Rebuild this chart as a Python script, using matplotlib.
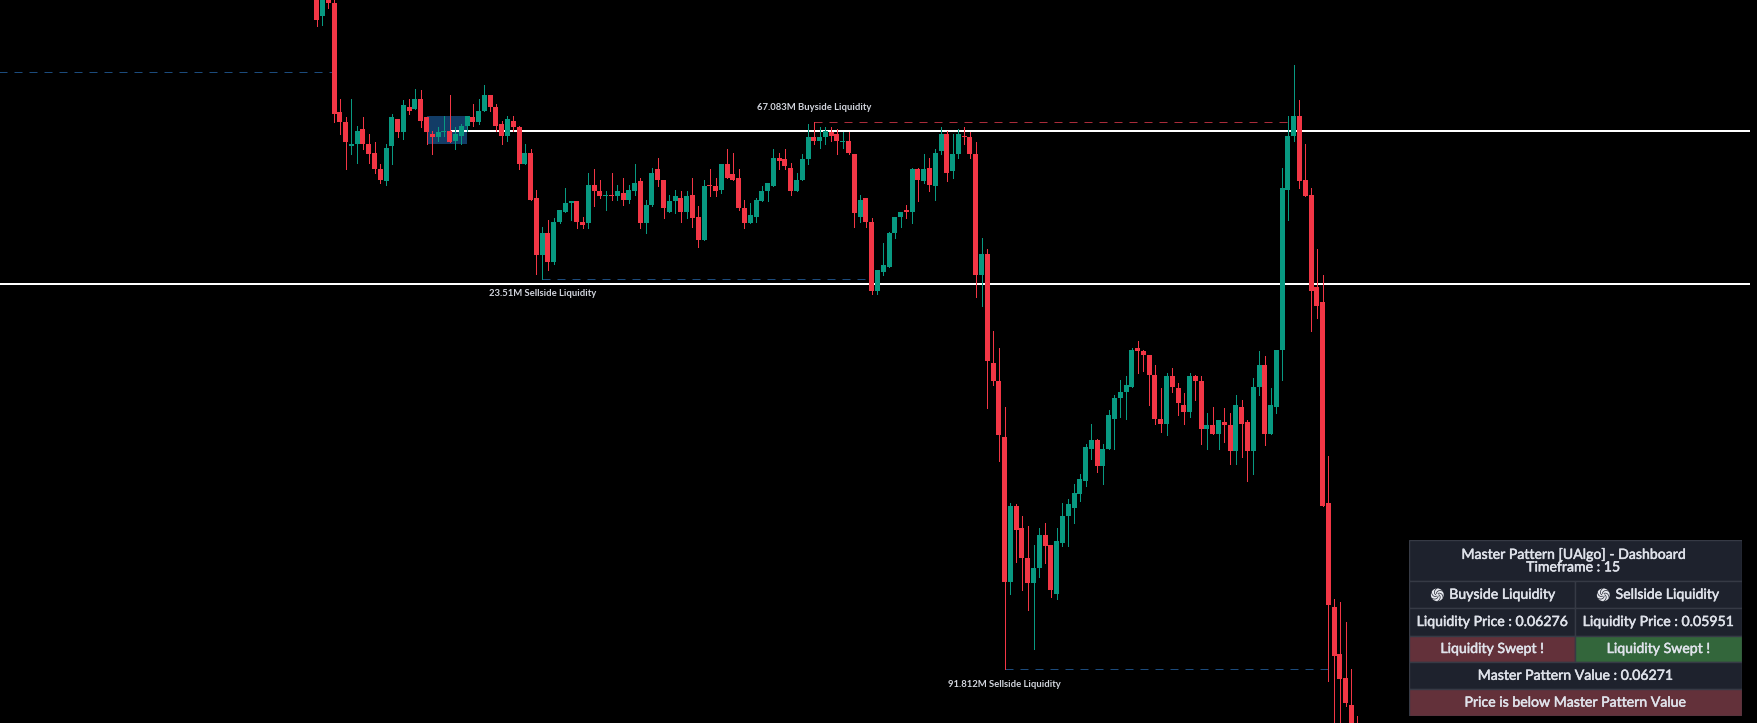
import numpy as np
import matplotlib
matplotlib.use('Agg')
import matplotlib.pyplot as plt
import matplotlib.patches as patches
import matplotlib.patheffects as pe

# prices in ticks of 0.00001, one entry per 15m bar
opens = [6352,6339,6352,6347,6282,6276,6262,6263,6272,6263,
         6258,6248,6241,6262,6278,6270,6285,6284,6290,6279,
         6269,6267,6270,6271,6265,6268,6274,6279,6276,6283,
         6292,6285,6275,6268,6277,6273,6251,6258,6231,6197,
         6210,6193,6217,6223,6228,6229,6217,6216,6239,6235,
         6232,6233,6232,6234,6230,6235,6241,6216,6227,6248,
         6242,6223,6229,6231,6223,6233,6220,6206,6239,6238,
         6236,6251,6245,6243,6225,6216,6220,6229,6235,6238,
         6255,6254,6249,6235,6242,6254,6267,6265,6267,6270,
         6269,6264,6265,6257,6220,6231,6217,6176,6187,6190,
         6210,6220,6224,6223,6248,6241,6249,6238,6259,6269,
         6247,6257,6268,6267,6257,6185,6198,6133,6122,6089,
         6003,6048,6035,6017,6002,6011,6031,6025,5996,6026,
         6042,6047,6055,6063,6082,6087,6072,6082,6100,6112,
         6116,6119,6142,6140,6138,6126,6100,6097,6125,6118,
         6108,6104,6125,6122,6094,6096,6091,6098,6096,6081,
         6107,6098,6081,6119,6132,6091,6107,6141,6236,6268,
         6280,6242,6233,6178,6169,6050,5988,5960,5946,5930,5915]
highs = [6355,6354,6353,6349,6290,6279,6290,6274,6279,6269,
         6264,6251,6263,6281,6278,6289,6290,6296,6295,6279,
         6271,6273,6280,6292,6273,6275,6280,6287,6290,6298,
         6292,6287,6277,6280,6280,6274,6263,6260,6236,6214,
         6218,6219,6224,6237,6229,6229,6220,6246,6248,6242,
         6235,6246,6239,6243,6239,6251,6243,6230,6249,6255,
         6242,6233,6236,6235,6235,6243,6226,6242,6248,6243,
         6251,6260,6258,6248,6230,6228,6231,6238,6240,6260,
         6258,6260,6252,6246,6257,6275,6276,6273,6273,6273,
         6272,6270,6270,6257,6233,6231,6219,6188,6204,6211,
         6220,6223,6227,6249,6249,6257,6255,6260,6273,6271,
         6269,6272,6273,6270,6264,6207,6201,6152,6142,6107,
         6050,6049,6042,6036,6025,6035,6038,6025,6035,6050,
         6052,6061,6067,6085,6097,6088,6085,6105,6114,6123,
         6125,6142,6146,6141,6138,6132,6118,6127,6130,6121,
         6115,6127,6126,6125,6103,6107,6099,6106,6103,6114,
         6111,6099,6124,6140,6137,6118,6141,6249,6280,6310,
         6289,6263,6237,6201,6185,6078,5993,5991,5979,5951,5923]
lows = [6333,6334,6344,6276,6269,6248,6257,6252,6260,6252,
        6246,6240,6239,6251,6267,6266,6281,6284,6273,6263,
        6257,6265,6268,6264,6260,6263,6271,6274,6275,6283,
        6283,6271,6263,6265,6271,6248,6251,6230,6186,6183,
        6188,6192,6216,6223,6218,6213,6213,6213,6226,6231,
        6224,6230,6230,6227,6228,6233,6213,6210,6226,6238,
        6219,6223,6222,6217,6219,6214,6202,6206,6232,6232,
        6234,6243,6242,6224,6213,6216,6217,6229,6229,6238,
        6248,6248,6233,6235,6242,6251,6263,6261,6263,6265,
        6257,6261,6257,6214,6217,6214,6174,6174,6185,6190,
        6207,6214,6219,6216,6229,6240,6235,6230,6257,6241,
        6243,6255,6263,6255,6172,6167,6106,6120,6075,5951,
        5996,6015,5998,5986,5963,6006,6014,5994,5993,6024,
        6024,6038,6051,6060,6076,6068,6061,6082,6082,6101,
        6100,6119,6127,6128,6108,6097,6092,6090,6116,6102,
        6097,6101,6111,6085,6082,6091,6082,6086,6073,6073,
        6077,6063,6067,6114,6084,6091,6103,6123,6218,6265,
        6237,6232,6152,6160,6048,5944,5915,5915,5929,5900,5900]
closes = [6337,6352,6347,6281,6276,6264,6263,6271,6263,6257,
          6248,6242,6261,6279,6270,6286,6283,6290,6277,6270,
          6267,6270,6271,6264,6269,6274,6280,6276,6283,6292,
          6285,6274,6268,6278,6273,6251,6258,6230,6197,6210,
          6193,6217,6224,6228,6229,6217,6215,6239,6235,6232,
          6233,6232,6235,6230,6236,6240,6216,6227,6246,6242,
          6225,6229,6232,6223,6232,6219,6206,6238,6238,6235,
          6251,6243,6242,6225,6216,6221,6230,6235,6240,6255,
          6253,6250,6235,6242,6254,6267,6265,6267,6271,6268,
          6265,6265,6258,6222,6230,6217,6176,6188,6191,6210,
          6220,6223,6223,6248,6242,6248,6239,6258,6269,6246,
          6257,6269,6267,6257,6185,6198,6134,6122,6090,6003,
          6048,6034,6017,6002,6011,6031,6024,5998,6027,6042,
          6049,6056,6064,6083,6087,6072,6082,6102,6112,6116,
          6120,6141,6140,6138,6126,6100,6097,6125,6119,6109,
          6104,6125,6122,6094,6096,6091,6099,6096,6081,6108,
          6097,6081,6119,6132,6091,6108,6141,6237,6268,6280,
          6241,6232,6176,6167,6048,5989,5959,5945,5931,5905,5905]

TICK = 0.00001
master_levels = [(0.06271, 23), (0.06180, -60)]   # price, first bar
master_value = 0.06271
buyside_price = 0.06276
sellside_price = 0.05951
old_buyside = 0.06306
mid_sellside = 0.06183
pattern_box = (19, 26, 0.06263, 0.06280)   # bar from, bar to, low, high

UP = '#089981'
DOWN = '#f23645'
plt.rcParams['font.family'] = ['Lato', 'DejaVu Sans']

o = np.array(opens) * TICK
h = np.array(highs) * TICK
l = np.array(lows) * TICK
c = np.array(closes) * TICK
bars = np.arange(len(o))
colors = [UP if b >= a else DOWN for a, b in zip(o, c)]

fig = plt.figure(figsize=(17.58, 7.23), dpi=100, facecolor='black')
ax = fig.add_axes([0, 0, 1, 1], facecolor='black')
ax.axis('off')
BAR_PX = 5.781
ax.set_xlim(-316.7 / BAR_PX, (1758 - 316.7) / BAR_PX)
ax.set_ylim(0.0591910, 0.0634866)

# order block
ax.add_patch(patches.Rectangle((pattern_box[0], pattern_box[2]), pattern_box[1] - pattern_box[0],
                               pattern_box[3] - pattern_box[2], facecolor='#123c66', edgecolor='none', zorder=1))

# master pattern lines
for price, start in master_levels:
    ax.hlines(price, start, 248, color='white', linewidth=1.44, zorder=2, snap=True)

# swept liquidity
dash = (0, (8, 7))
ax.hlines(old_buyside, -60, 3, color='#1c4b7c', linewidth=0.72, linestyle=dash, zorder=1)
ax.hlines(mid_sellside, 39, 95, color='#1c4b7c', linewidth=0.72, linestyle=dash, zorder=1)
ax.hlines(sellside_price, 119, 175, color='#1c4b7c', linewidth=0.72, linestyle=dash, zorder=1)
ax.hlines(buyside_price, 86, 168, color='#a82c3a', linewidth=0.72, linestyle=dash, zorder=1)

ax.vlines(bars, l, h, colors=colors, linewidth=0.72, zorder=3, antialiased=False)
ax.bar(bars, np.abs(c - o), bottom=np.minimum(o, c), width=5 / BAR_PX, color=colors, zorder=4, antialiased=False)

label_style = dict(color='#d1d4dc', fontsize=6.8, fontweight='bold', ha='center', va='center',
                   textcoords='offset pixels', zorder=6)
ax.annotate('67.083M Buyside Liquidity', (86, buyside_price), xytext=(0, 14.6), **label_style)
ax.annotate('23.51M Sellside Liquidity', (39, mid_sellside), xytext=(0, -14.4), **label_style)
ax.annotate('91.812M Sellside Liquidity', (119, sellside_price), xytext=(0, -15.4), **label_style)

# dashboard, drawn in its own pixel-sized axes
panel = fig.add_axes([1409.3 / 1758, 7 / 723, 332.4 / 1758, 176 / 723])
panel.set_xlim(0, 332.4)
panel.set_ylim(176, 0)
panel.axis('off')

BG = '#1e222d'
EDGE = '#363a45'
RED = '#63313a'
GREEN = '#33663b'
TXT = '#dfe2ea'
MID = 166
ROWS = [0, 41.3, 68.3, 95.7, 122.3, 149.3, 176]


def cell(x0, x1, row, color, text, dx=0):
    y0, y1 = ROWS[row], ROWS[row + 1]
    panel.add_patch(patches.Rectangle((x0, y0), x1 - x0, y1 - y0, facecolor=color, edgecolor=EDGE, linewidth=1))
    t = panel.text((x0 + x1) / 2 + dx, (y0 + y1) / 2, text, color=TXT, fontsize=10.15,
                   ha='center', va='center', linespacing=1.05)
    t.set_path_effects([pe.withStroke(linewidth=0.35, foreground=TXT)])


def swirl(xc, yc):
    panel.add_patch(patches.Circle((xc, yc), 6.4, facecolor='#e6e8ee', edgecolor='none', zorder=5))
    t = np.linspace(0, 1, 12)
    for a in np.arange(0, 2 * np.pi, np.pi / 3):
        r = 1.5 + 4.9 * t
        panel.plot(xc + r * np.cos(a + 1.5 * t), yc + r * np.sin(a + 1.5 * t), color=BG, linewidth=0.5, zorder=6)


cell(0, 332.4, 0, BG, 'Master Pattern [UAlgo] - Dashboard\nTimeframe : 15', dx=-2)
cell(0, MID, 1, BG, 'Buyside Liquidity', dx=10)
cell(MID, 332.4, 1, BG, 'Sellside Liquidity', dx=9)
cell(0, MID, 2, BG, 'Liquidity Price : %.5f' % buyside_price)
cell(MID, 332.4, 2, BG, 'Liquidity Price : %.5f' % sellside_price)
cell(0, MID, 3, RED, 'Liquidity Swept !')
cell(MID, 332.4, 3, GREEN, 'Liquidity Swept !')
cell(0, 332.4, 4, BG, 'Master Pattern Value : %.5f' % master_value)
cell(0, 332.4, 5, RED, 'Price is below Master Pattern Value')
swirl(28, 54.8)
swirl(194, 54.8)

fig.savefig('out.png', dpi=100, facecolor='black')
